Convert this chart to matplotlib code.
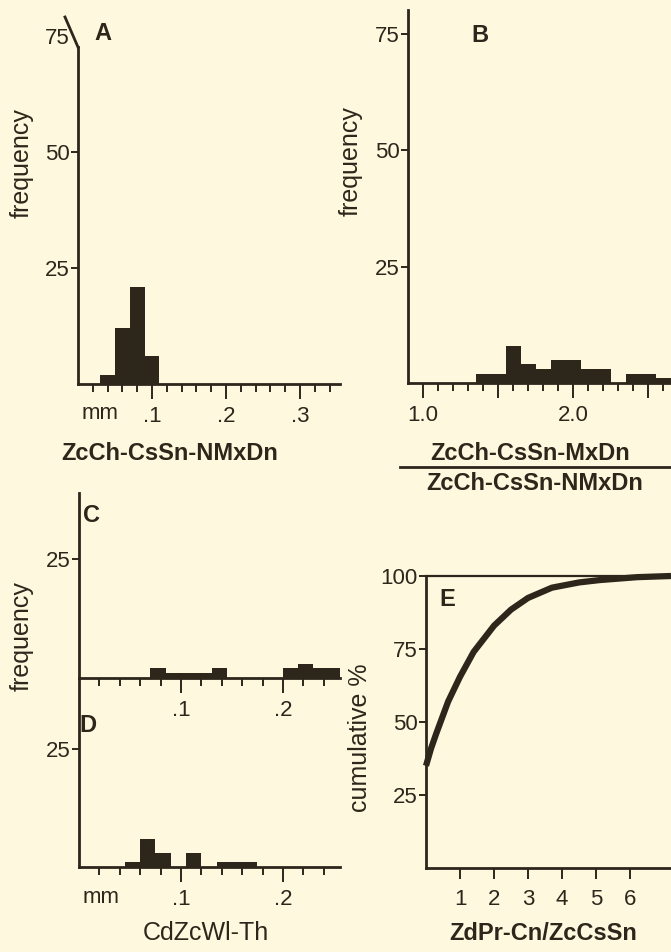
import matplotlib.pyplot as plt
import numpy as np

# panel A: ZcCh-CsSn-NMxDn (mm)
a_edges = [0.03, 0.05, 0.07, 0.09, 0.11]
a_freq = [2, 12, 21, 6]

# panel B: ratio MxDn / NMxDn
b_edges = [1.35, 1.55, 1.65, 1.75, 1.85, 2.05, 2.25, 2.35, 2.55, 2.65]
b_freq = [2, 8, 4, 3, 5, 3, 0, 2, 1]

# panel C
c_edges = [0.07, 0.085, 0.13, 0.145, 0.2, 0.215, 0.23, 0.26]
c_freq = [2, 1, 2, 0, 2, 3, 2]

# panel D: CdZcWl-Th (mm)
d_edges = [0.045, 0.06, 0.075, 0.09, 0.105, 0.12, 0.135, 0.175]
d_freq = [1, 6, 3, 0, 3, 0, 1]

# panel E: cumulative %
e_x = [0, 0.15, 0.3, 0.65, 1.0, 1.4, 2.0, 2.5, 3.0, 3.7, 4.5, 5.1, 6.2, 7.2]
e_y = [35, 41, 46, 57, 65.5, 74, 83, 88.5, 92.5, 96, 97.8, 98.6, 99.6, 100]

ink = "#2d261b"
bg = "#fdf8de"
W, H = 671, 952

plt.rcParams['font.family'] = ['Liberation Sans', 'DejaVu Sans']
plt.rcParams['text.color'] = ink

fig = plt.figure(figsize=(W / 100, H / 100), dpi=100, facecolor=bg)


def box(l, t, r, b):
    return [l / W, 1 - b / H, (r - l) / W, (b - t) / H]


def style(ax):
    ax.set_facecolor('none')
    for s in ['top', 'right']:
        ax.spines[s].set_visible(False)
    for s in ['left', 'bottom']:
        ax.spines[s].set_linewidth(2.0)
        ax.spines[s].set_color(ink)
    ax.tick_params(which='both', direction='out', width=1.4, color=ink,
                   labelcolor=ink, labelsize=16)
    ax.tick_params(axis='y', length=5, pad=1)
    ax.tick_params(axis='x', which='major', length=11, pad=5)
    ax.tick_params(axis='x', which='minor', length=6)


def ftext(x, y, s, **kw):
    fig.text(x / W, 1 - y / H, s, ha='center', va='center', color=ink, **kw)


# ---- A
axA = fig.add_axes(box(78, 17, 340, 384))
style(axA)
axA.stairs(a_freq, a_edges, fill=True, color=ink, lw=0)
axA.set_xlim(0, 0.354)
axA.set_ylim(0, 79.1)
axA.spines['left'].set_bounds(0, 72.6)
axA.plot([0, -0.0176], [72.6, 79.1], color=ink, lw=2.0, clip_on=False)
axA.set_yticks([25, 50, 75])
axA.yaxis.get_major_ticks()[2].tick1line.set_visible(False)
axA.set_xticks([0.1, 0.2, 0.3], ['.1', '.2', '.3'])
axA.set_xticks([v for v in np.arange(0.02, 0.35, 0.02) if abs(v * 10 - round(v * 10)) > 1e-6], minor=True)
axA.text(0.03, -0.08, 'mm', transform=axA.get_xaxis_transform(), ha='center', va='center', fontsize=16)

# ---- B
axB = fig.add_axes(box(408, 10, 671, 383))
style(axB)
axB.stairs(b_freq, b_edges, fill=True, color=ink, lw=0)
axB.set_xlim(0.9, 2.653)
axB.set_ylim(0, 80.2)
axB.set_yticks([25, 50, 75])
axB.set_xticks([1.0, 1.5, 2.0, 2.5], ['1.0', '', '2.0', ''])
axB.set_xticks([1.1, 1.2, 1.3, 1.4, 1.6, 1.7, 1.8, 1.9, 2.1, 2.2, 2.3, 2.4, 2.6], minor=True)

# ---- C
axC = fig.add_axes(box(79, 493, 340, 678))
style(axC)
axC.stairs(c_freq, c_edges, fill=True, color=ink, lw=0)
axC.set_xlim(0, 0.256)
axC.set_ylim(0, 38.9)
axC.set_yticks([25])
axC.set_xticks([0.1, 0.2], ['.1', '.2'])
axC.set_xticks([0.02, 0.04, 0.06, 0.08, 0.12, 0.14, 0.16, 0.18, 0.22, 0.24], minor=True)

# ---- D
axD = fig.add_axes(box(79, 678, 340, 867))
style(axD)
axD.stairs(d_freq, d_edges, fill=True, color=ink, lw=0)
axD.set_xlim(0, 0.256)
axD.set_ylim(0, 40.2)
axD.set_yticks([25])
axD.set_xticks([0.1, 0.2], ['.1', '.2'])
axD.set_xticks([0.02, 0.04, 0.06, 0.08, 0.12, 0.14, 0.16, 0.18, 0.22, 0.24], minor=True)
axD.text(0.022, -0.16, 'mm', transform=axD.get_xaxis_transform(), ha='center', va='center', fontsize=16)

# ---- E
axE = fig.add_axes(box(426, 576, 671, 868))
style(axE)
axE.spines['top'].set_visible(True)
axE.spines['top'].set_linewidth(1.6)
axE.spines['top'].set_color(ink)
axE.plot(e_x, e_y, color=ink, lw=4.5, solid_capstyle='butt', clip_on=False)
axE.set_xlim(0, 7.2)
axE.set_ylim(0, 100)
axE.set_yticks([25, 50, 75, 100])
axE.set_xticks([1, 2, 3, 4, 5, 6])
axE.tick_params(axis='x', which='major', length=8, pad=7)

# panel letters
for (x, y, s) in [(103, 33, 'A'), (480, 35, 'B'), (92, 515, 'C'), (88, 725, 'D'), (447, 600, 'E')]:
    ftext(x, y, s, fontsize=17, fontweight='bold')

# axis titles
ftext(22, 163, 'frequency', fontsize=18, rotation=90)
ftext(351, 161, 'frequency', fontsize=18, rotation=90)
ftext(22, 636, 'frequency', fontsize=18, rotation=90)
ftext(360, 738, 'cumulative %', fontsize=18, rotation=90)

ftext(170, 453, 'ZcCh-CsSn-NMxDn', fontsize=17, fontweight='bold')
ftext(530, 453, 'ZcCh-CsSn-MxDn', fontsize=17, fontweight='bold')
fig.add_artist(plt.Line2D([400 / W, 671 / W], [1 - 467 / H, 1 - 467 / H], color=ink, lw=2.0))
ftext(535, 483, 'ZcCh-CsSn-NMxDn', fontsize=17, fontweight='bold')
ftext(206, 933, 'CdZcWl-Th', fontsize=18)
ftext(543, 933, 'ZdPr-Cn/ZcCsSn', fontsize=17, fontweight='bold')

fig.savefig('out.png', dpi=100, facecolor=bg)
